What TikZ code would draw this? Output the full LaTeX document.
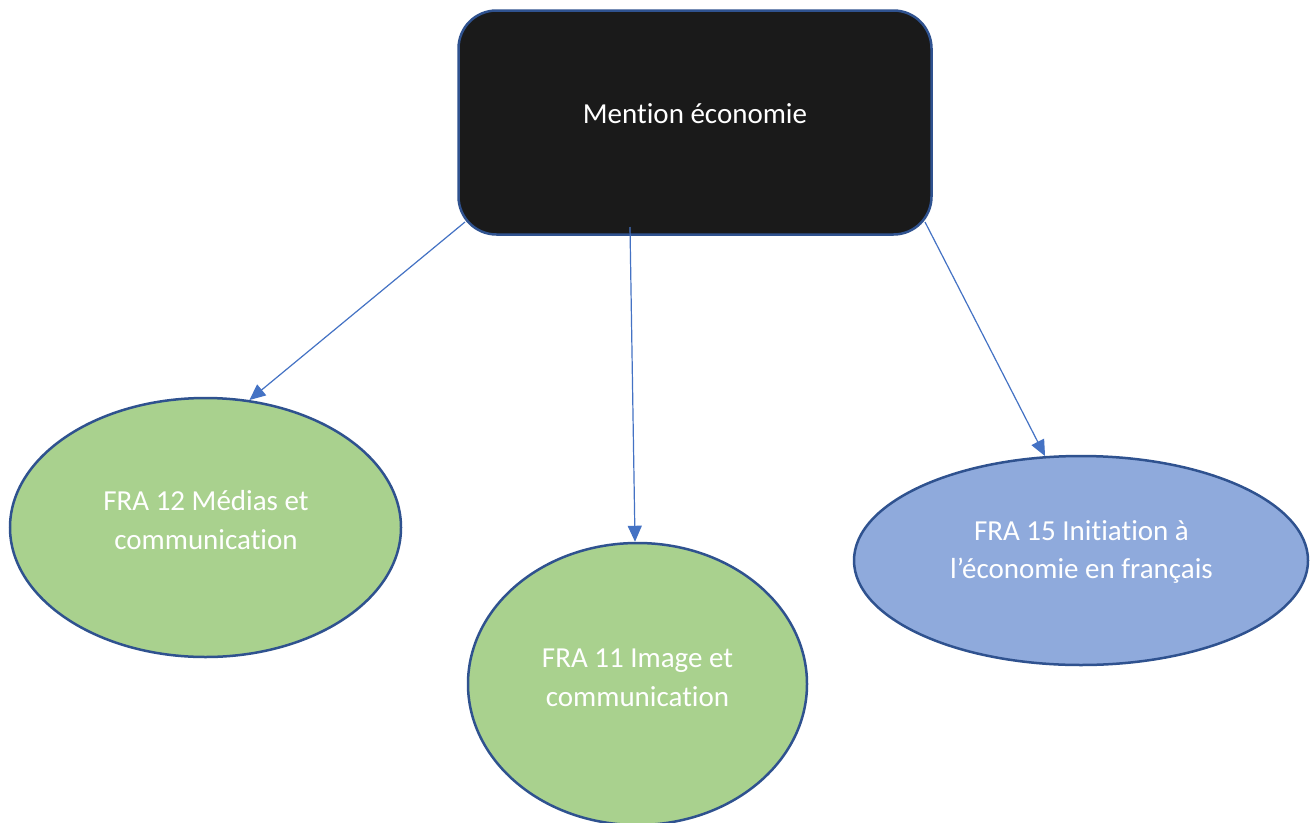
\documentclass[tikz,border=0pt]{standalone}
\usepackage{fontspec}
\setmainfont{Carlito}[Ligatures=NoCommon,RawFeature={-liga}]
\usetikzlibrary{arrows.meta,shapes.geometric}
\definecolor{bordc}{HTML}{2F528F}
\definecolor{arrc}{HTML}{4472C4}
\definecolor{greenf}{HTML}{A9D18E}
\definecolor{bluef}{HTML}{8FAADC}
\definecolor{darkf}{HTML}{1A1A1A}
\begin{document}
\begin{tikzpicture}[x=1pt,y=-1pt,
  boxst/.style={draw=bordc,line width=2.5pt,fill=darkf,rounded corners=38pt,inner sep=0pt},
  ellst/.style={ellipse,draw=bordc,line width=2.5pt,inner sep=0pt},
  txt/.style={text=white,align=center,font=\fontsize{29}{38.5}\selectfont,inner sep=0pt},
  conn/.style={draw=arrc,line width=1.2pt,-{Triangle[length=16pt,width=14pt]}}]
\path[fill=white,use as bounding box] (0,0) rectangle (1314,822);
\node[boxst,minimum width=473pt,minimum height=224pt] (top) at (695,122.5) {};
\node[txt] (toptxt) at (695,114) {Mention économie};
\node[ellst,fill=greenf,minimum width=391pt,minimum height=259pt] (left) at (205.5,527.5) {};
\node[txt] (lefttxt) at (206,520) {FRA 12 Médias et\\communication};
\node[ellst,fill=greenf,minimum width=339pt,minimum height=282pt] (mid) at (637.5,684) {};
\node[txt] (midtxt) at (637.5,678) {FRA 11 Image et\\communication};
\node[ellst,fill=bluef,minimum width=454pt,minimum height=209pt] (right) at (1081,560.5) {};
\node[txt] (righttxt) at (1081.5,552) {FRA 15 Initiation à\\l’économie en français};
\coordinate (s1) at (465,222);
\coordinate (s2) at (630,227);
\coordinate (s3) at (925,222);
\draw[conn] (s1) -- (left.71.8);
\draw[conn] (s2) -- (mid.91);
\draw[conn] (s3) -- (right.109.8);
\end{tikzpicture}
\end{document}
